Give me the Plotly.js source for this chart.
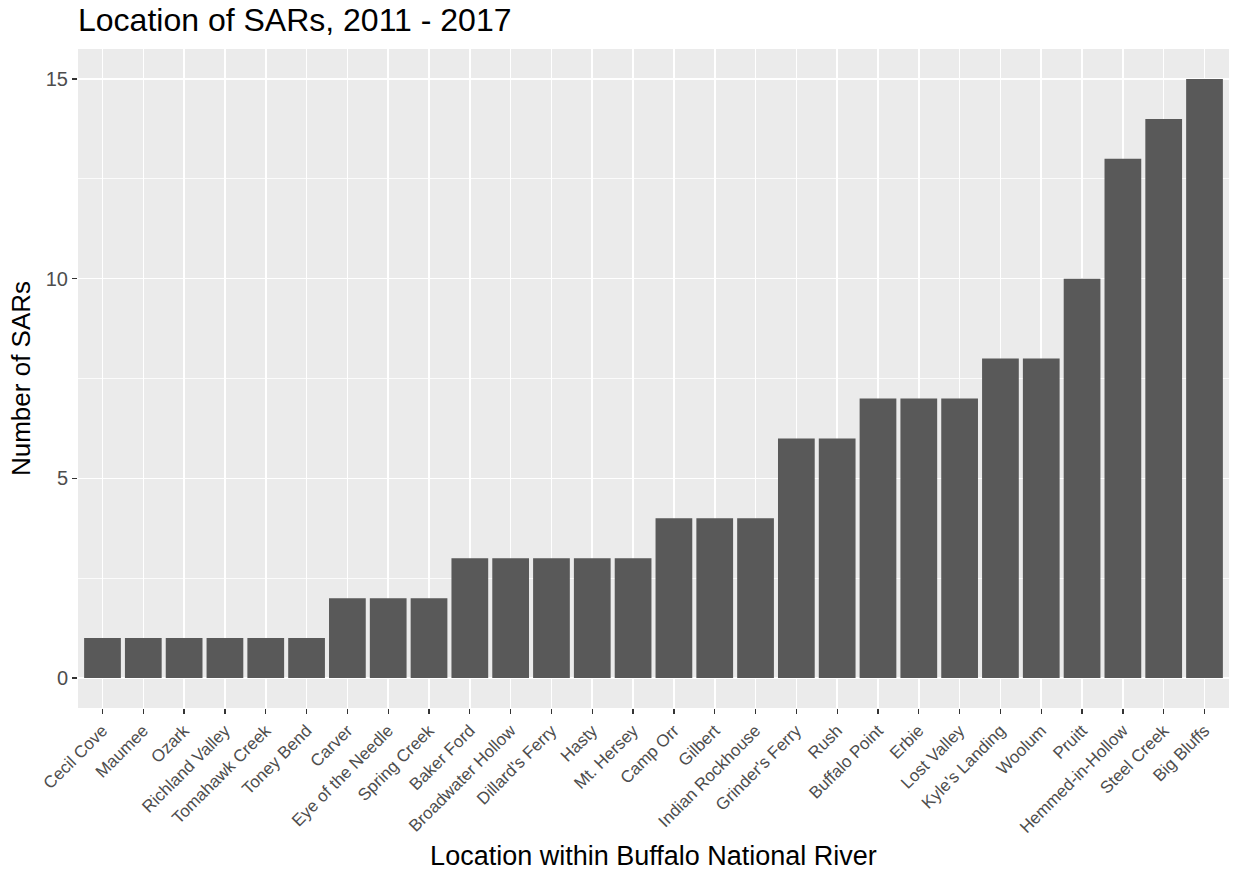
<!DOCTYPE html>
<html>
<head>
<meta charset="utf-8">
<script src="https://cdn.plot.ly/plotly-3.0.1.min.js"></script>
<style>html,body{margin:0;padding:0;background:#fff;}#chart{width:1233px;height:871px;}</style>
</head>
<body>
<div id="chart"></div>
<script>
const locations = ["Cecil Cove","Maumee","Ozark","Richland Valley","Tomahawk Creek","Toney Bend","Carver","Eye of the Needle","Spring Creek","Baker Ford","Broadwater Hollow","Dillard's Ferry","Hasty","Mt. Hersey","Camp Orr","Gilbert","Indian Rockhouse","Grinder's Ferry","Rush","Buffalo Point","Erbie","Lost Valley","Kyle's Landing","Woolum","Pruitt","Hemmed-in-Hollow","Steel Creek","Big Bluffs"];
const sarCounts = [1,1,1,1,1,1,2,2,2,3,3,3,3,3,4,4,4,6,6,7,7,7,8,8,10,13,14,15];
const yTicks = [0,5,10,15];

const font = "Liberation Sans, Arial, sans-serif";
const trace = {
  type: 'bar',
  x: locations,
  y: sarCounts,
  marker: {color: '#595959'},
  hoverinfo: 'x+y'
};
const layout = {
  width: 1233, height: 871,
  paper_bgcolor: '#ffffff',
  plot_bgcolor: '#EBEBEB',
  margin: {l: 78, r: 4, t: 49, b: 163},
  bargap: 0.1,
  showlegend: false,
  title: {
    text: 'Location of SARs, 2011 - 2017',
    font: {family: font, size: 32, color: '#000000'},
    x: 0, xref: 'paper', xanchor: 'left',
    y: 0.99, yref: 'container', yanchor: 'top'
  },
  xaxis: {
    type: 'category',
    categoryorder: 'array',
    categoryarray: locations,
    range: [-0.6, locations.length - 0.4],
    tickangle: -45,
    tickfont: {family: font, size: 17, color: '#4D4D4D'},
    ticks: 'outside', ticklen: 5, tickwidth: 1.3, tickcolor: '#333333',
    showgrid: true, gridcolor: '#FFFFFF', gridwidth: 1.6,
    zeroline: false, showline: false,
    automargin: false,
    title: {text: 'Location within Buffalo National River', font: {family: font, size: 27, color: '#000000'}, standoff: 18}
  },
  yaxis: {
    range: [-0.75, 15.75],
    tickvals: yTicks,
    ticktext: yTicks.map(String),
    tickfont: {family: font, size: 20, color: '#4D4D4D'},
    ticks: 'outside', ticklen: 5, tickwidth: 1.3, tickcolor: '#333333',
    showgrid: true, gridcolor: '#FFFFFF', gridwidth: 1.6,
    minor: {dtick: 2.5, tick0: 0, showgrid: true, gridcolor: '#FFFFFF', gridwidth: 0.8, ticks: ''},
    zeroline: false, showline: false,
    automargin: false,
    title: {text: 'Number of SARs', font: {family: font, size: 26, color: '#000000'}, standoff: 7}
  }
};
Plotly.newPlot('chart', [trace], layout, {displayModeBar: false, staticPlot: true});
</script>
</body>
</html>
